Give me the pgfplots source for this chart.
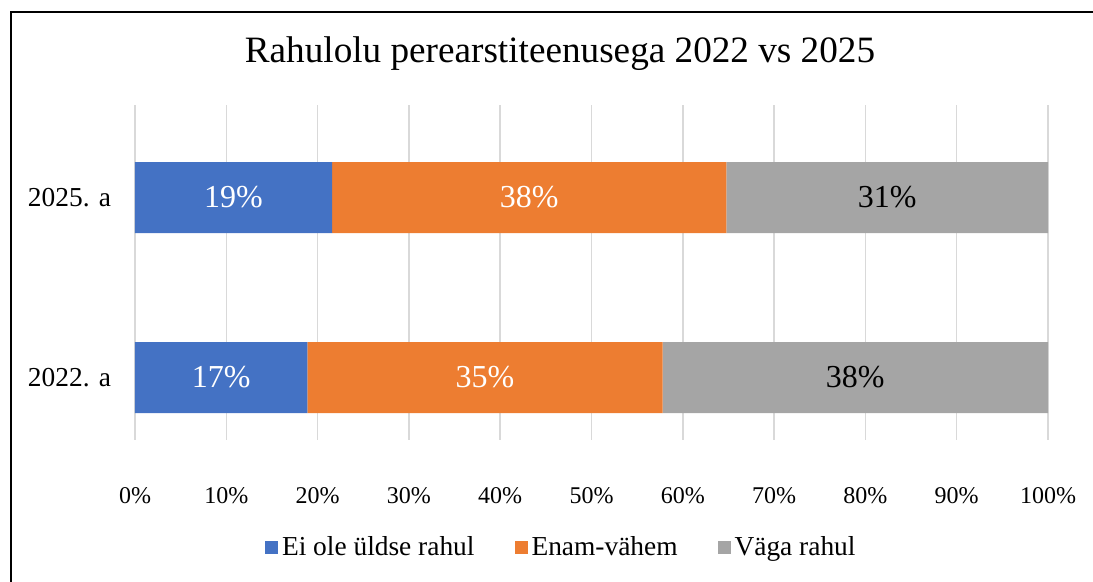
\documentclass[border=0pt]{standalone}
\usepackage{pgfplots}
\pgfplotsset{compat=1.18}
\usepackage{fontspec}
\setmainfont{Liberation Serif}
\definecolor{xblue}{HTML}{4472C4}
\definecolor{xorange}{HTML}{ED7D31}
\definecolor{xgray}{HTML}{A5A5A5}
\definecolor{xgrid}{HTML}{D9D9D9}

\begin{document}
\begin{tikzpicture}
\useasboundingbox (-67.5pt,-71pt) rectangle (479pt,220pt);
% outer chart frame (cropped on right and bottom)
\draw[line width=1pt] (-62pt,-71pt) -- (-62pt,214pt) -- (479pt,214pt);
\begin{axis}[
  scale only axis, width=456.5pt, height=167.5pt, clip=false,
  xbar stacked, bar width=35.5pt,
  xmin=0, xmax=100, ymin=-0.347, ymax=1.514,
  axis line style={draw=none}, tick style={draw=none},
  xmajorgrids, grid style={xgrid, line width=0.75pt},
  xtick={0,10,...,100},
  xticklabels={0\%,10\%,20\%,30\%,40\%,50\%,60\%,70\%,80\%,90\%,100\%},
  xticklabel style={font=\fontsize{12}{14}\selectfont, yshift=-20pt},
  ytick={0,1}, yticklabels={2022. a,2025. a},
  yticklabel style={font=\fontsize{13.7}{16}\selectfont, xshift=-8.5pt},
  point meta=explicit symbolic,
  nodes near coords,
  every node near coord/.append style={anchor=center,
    font=\fontsize{16}{19}\selectfont},
  legend style={at={(rel axis cs:0.468,-0.322)}, anchor=center, draw=none,
    legend columns=3, font=\fontsize{13.7}{16}\selectfont,
    /tikz/every even column/.append style={column sep=18pt},
    legend cell align=left},
  legend image code/.code={\fill[#1] (0pt,-3.25pt) rectangle (6.5pt,3.25pt);},
]
\addplot[fill=xblue, draw=none, every node near coord/.append style={text=white}]
  coordinates {(18.89,0) [17\%] (21.59,1) [19\%]};
\addplot[fill=xorange, draw=none, every node near coord/.append style={text=white}]
  coordinates {(38.89,0) [35\%] (43.18,1) [38\%]};
\addplot[fill=xgray, draw=none, every node near coord/.append style={text=black}]
  coordinates {(42.22,0) [38\%] (35.23,1) [31\%]};
\legend{Ei ole üldse rahul, Enam-vähem, Väga rahul}
\node[font=\fontsize{18.6}{22}\selectfont] at (rel axis cs:0.4655,1.153)
  {Rahulolu perearstiteenusega 2022 vs 2025};
\end{axis}
\end{tikzpicture}
\end{document}
